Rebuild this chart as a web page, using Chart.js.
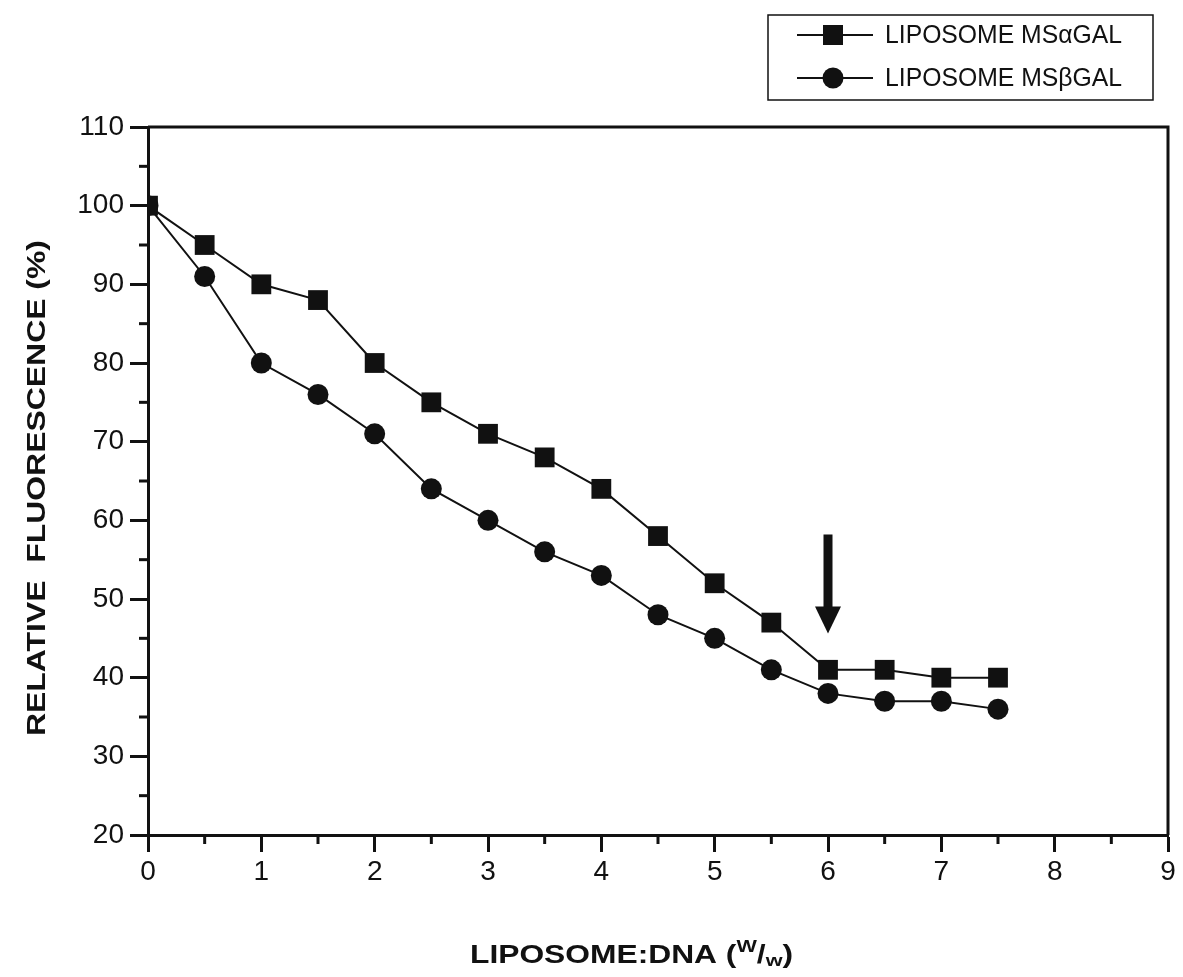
<!DOCTYPE html>
<html>
<head>
<meta charset="utf-8">
<script src="https://cdn.jsdelivr.net/npm/chart.js@4"></script>
<style>
  html, body { margin: 0; padding: 0; background: #fff; }
  canvas { display: block; }
</style>
</head>
<body>
<canvas id="myChart" width="1183" height="977"></canvas>
<script>
const ratios = [0, 0.5, 1, 1.5, 2, 2.5, 3, 3.5, 4, 4.5, 5, 5.5, 6, 6.5, 7, 7.5];
const alphaGal = [100, 95, 90, 88, 80, 75, 71, 68, 64, 58, 52, 47, 41, 41, 40, 40];
const betaGal = [100, 91, 80, 76, 71, 64, 60, 56, 53, 48, 45, 41, 38, 37, 37, 36];
const seriesNames = ['LIPOSOME MS\u03B1GAL', 'LIPOSOME MS\u03B2GAL'];
const xTicks = [0, 1, 2, 3, 4, 5, 6, 7, 8, 9];
const yTicks = [20, 30, 40, 50, 60, 70, 80, 90, 100, 110];
const yTitle = 'RELATIVE  FLUORESCENCE (%)';
const arrowAt = { x: 6, from: 58.2, to: 45.6 };

const sans = "'Liberation Sans', Arial, Helvetica, sans-serif";

const ctx = document.getElementById('myChart');

// x title pieces: text, font size, baseline shift
const xTitleParts = [
  ['LIPOSOME:DNA (', 25, 0],
  ['W', 17, -11],
  ['/', 25, 0],
  ['w', 17, 3],
  [')', 25, 0]
];

// minor ticks, frame, arrow, titles and the boxed legend
const extras = {
  id: 'extras',
  afterDraw(chart) {
    const c = chart.ctx;
    const a = chart.chartArea;
    const xs = chart.scales.x, ys = chart.scales.y;
    c.save();
    c.strokeStyle = '#111';
    c.fillStyle = '#111';

    // top and right frame
    c.lineWidth = 3;
    c.beginPath();
    c.moveTo(a.left, a.top);
    c.lineTo(a.right, a.top);
    c.lineTo(a.right, a.bottom);
    c.stroke();

    // minor ticks
    for (let i = 0; i < xTicks.length - 1; i++) {
      const px = xs.getPixelForValue(xTicks[i] + 0.5);
      c.beginPath();
      c.moveTo(px, a.bottom);
      c.lineTo(px, a.bottom + 9);
      c.stroke();
    }
    for (let i = 0; i < yTicks.length - 1; i++) {
      const py = ys.getPixelForValue(yTicks[i] + 5);
      c.beginPath();
      c.moveTo(a.left, py);
      c.lineTo(a.left - 9, py);
      c.stroke();
    }

    // arrow
    const ax = xs.getPixelForValue(arrowAt.x);
    const y0 = ys.getPixelForValue(arrowAt.from);
    const y1 = ys.getPixelForValue(arrowAt.to);
    c.fillRect(ax - 4.5, y0, 9, y1 - y0 - 24);
    c.beginPath();
    c.moveTo(ax - 13, y1 - 27);
    c.lineTo(ax + 13, y1 - 27);
    c.lineTo(ax, y1);
    c.closePath();
    c.fill();

    // y title, stretched along its run
    c.save();
    c.font = 'bold 25px ' + sans;
    c.textAlign = 'center';
    c.textBaseline = 'middle';
    const yw = c.measureText(yTitle).width;
    c.translate(38, 488);
    c.rotate(-Math.PI / 2);
    c.scale(496 / yw, 1);
    c.fillText(yTitle, 0, 0);
    c.restore();

    // x title with w/w, stretched to the same look
    c.save();
    c.textBaseline = 'alphabetic';
    c.textAlign = 'left';
    let total = 0;
    xTitleParts.forEach(p => {
      c.font = 'bold ' + p[1] + 'px ' + sans;
      total += c.measureText(p[0]).width;
    });
    c.translate(470, 963);
    c.scale(323 / total, 1);
    let tx = 0;
    xTitleParts.forEach(p => {
      c.font = 'bold ' + p[1] + 'px ' + sans;
      c.fillText(p[0], tx, p[2]);
      tx += c.measureText(p[0]).width;
    });
    c.restore();

    // legend box
    c.lineWidth = 1.5;
    c.strokeRect(768, 15, 385, 85);
    const rows = [35, 78];
    c.lineWidth = 2;
    c.font = '25px ' + sans;
    c.textBaseline = 'middle';
    c.textAlign = 'left';
    rows.forEach((ry, i) => {
      c.beginPath();
      c.moveTo(797, ry);
      c.lineTo(873, ry);
      c.stroke();
      if (i === 0) {
        c.fillRect(823, ry - 10, 20, 20);
      } else {
        c.beginPath();
        c.arc(833, ry, 10.5, 0, Math.PI * 2);
        c.fill();
      }
      const w = c.measureText(seriesNames[i]).width;
      c.save();
      c.translate(885, ry + 1);
      c.scale(237 / w, 1);
      c.fillText(seriesNames[i], 0, 0);
      c.restore();
    });
    c.restore();
  }
};

const whiteBg = {
  id: 'whiteBg',
  beforeDraw(chart) {
    const c = chart.ctx;
    c.save();
    c.fillStyle = '#fff';
    c.fillRect(0, 0, chart.width, chart.height);
    c.restore();
  }
};

new Chart(ctx, {
  type: 'line',
  data: {
    datasets: [
      {
        label: seriesNames[0],
        data: ratios.map((x, i) => ({ x: x, y: alphaGal[i] })),
        borderColor: '#111',
        backgroundColor: '#111',
        borderWidth: 2,
        pointStyle: 'rect',
        pointRadius: 14,
        pointBorderWidth: 0,
        tension: 0
      },
      {
        label: seriesNames[1],
        data: ratios.map((x, i) => ({ x: x, y: betaGal[i] })),
        borderColor: '#111',
        backgroundColor: '#111',
        borderWidth: 2,
        pointStyle: 'circle',
        pointRadius: 10.5,
        pointBorderWidth: 0,
        tension: 0
      }
    ]
  },
  options: {
    responsive: false,
    animation: false,
    events: [],
    layout: { padding: { left: 0, right: 15, top: 127, bottom: 0 } },
    plugins: {
      legend: { display: false },
      tooltip: { enabled: false }
    },
    scales: {
      x: {
        type: 'linear',
        min: 0,
        max: 9,
        afterFit(scale) { scale.height = 142; },
        afterBuildTicks(scale) { scale.ticks = xTicks.map(v => ({ value: v })); },
        border: { display: true, color: '#111', width: 3 },
        grid: { drawOnChartArea: false, drawTicks: true, tickLength: 17, tickWidth: 3, tickColor: '#111' },
        ticks: { color: '#111', padding: 3, font: { family: sans, size: 28 } }
      },
      y: {
        type: 'linear',
        min: 20,
        max: 110,
        afterFit(scale) { scale.width = 148; },
        afterBuildTicks(scale) { scale.ticks = yTicks.map(v => ({ value: v })); },
        border: { display: true, color: '#111', width: 3 },
        grid: { drawOnChartArea: false, drawTicks: true, tickLength: 18, tickWidth: 3, tickColor: '#111' },
        ticks: { color: '#111', padding: 6, font: { family: sans, size: 28 } }
      }
    }
  },
  plugins: [whiteBg, extras]
});
</script>
</body>
</html>
